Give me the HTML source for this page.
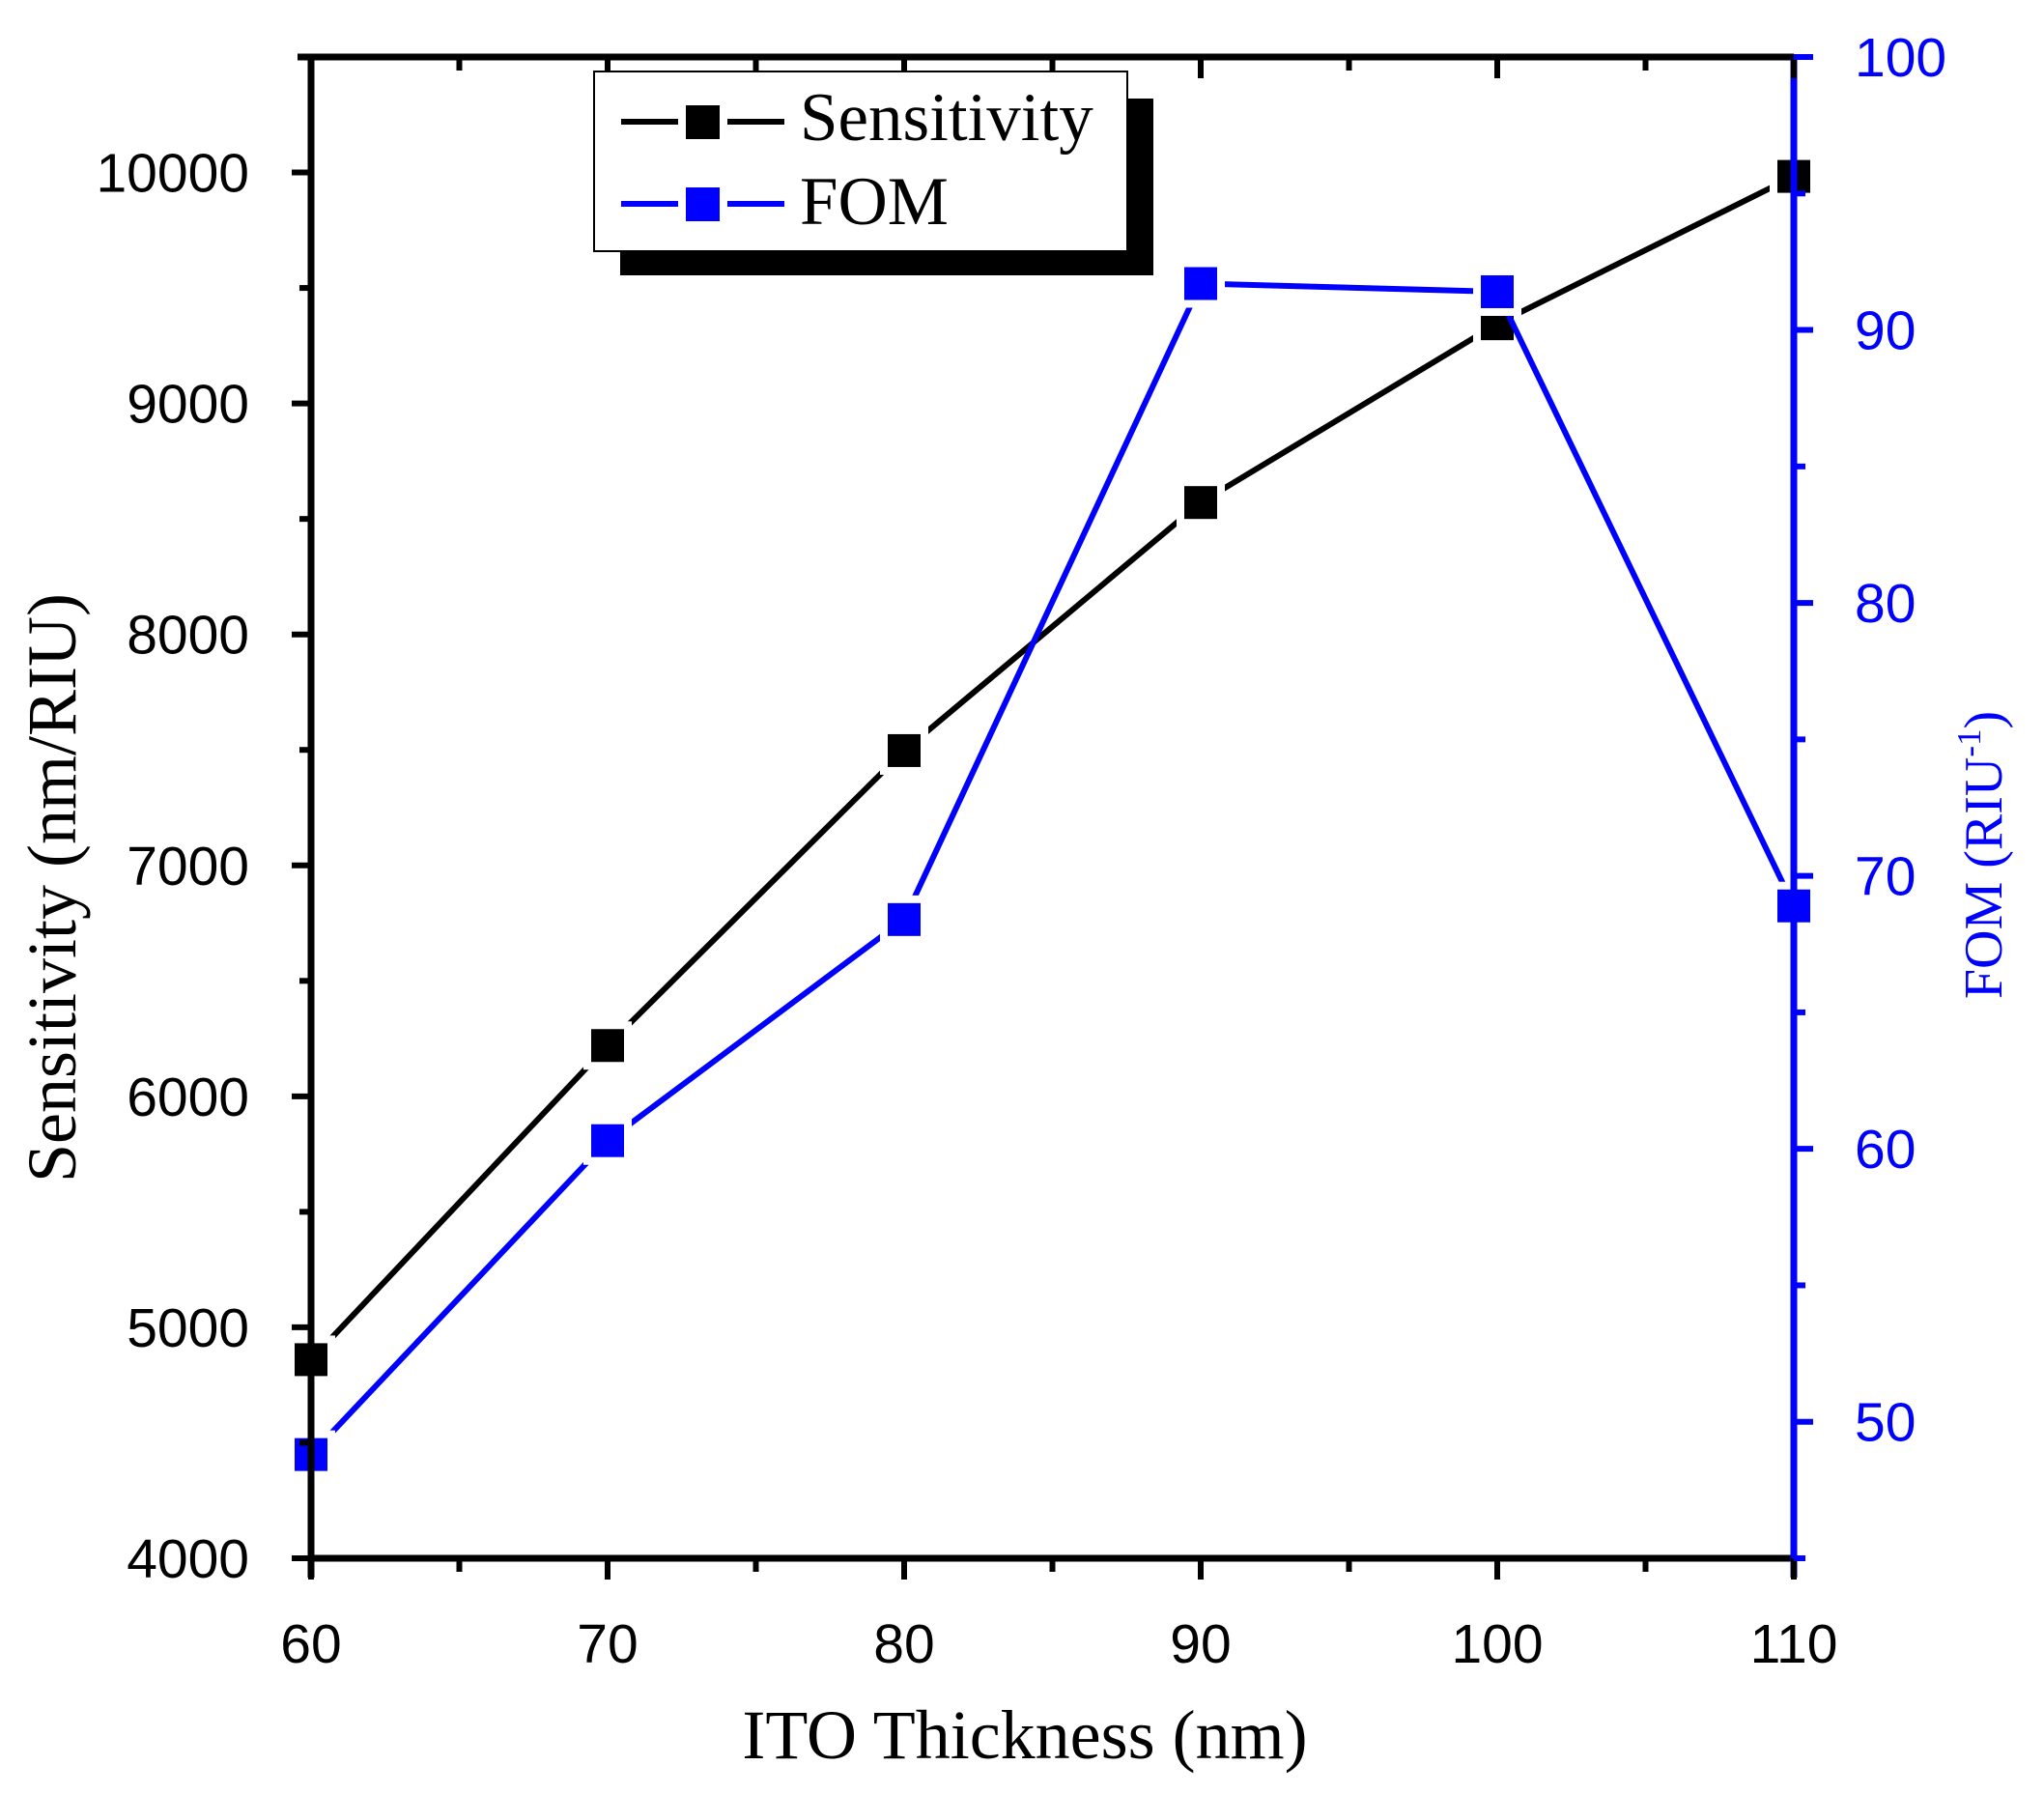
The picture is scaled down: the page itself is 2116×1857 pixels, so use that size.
<!DOCTYPE html>
<html><head><meta charset="utf-8"><style>
body{margin:0;background:#fff}
svg{display:block}
</style></head><body>
<svg id="chart" width="2116" height="1857" viewBox="0 0 2116 1857" xmlns="http://www.w3.org/2000/svg">
<g id="series"></g>
<g id="axes"></g>
<g id="legend">
  <rect x="642" y="102" width="552" height="183" fill="#000"/>
  <rect x="615" y="74" width="552" height="186" fill="#fff" stroke="#000" stroke-width="2"/>
  <line x1="643" y1="126" x2="812" y2="126" stroke="#000" stroke-width="6"/>
  <rect x="706" y="105" width="43" height="43" fill="#000" stroke="#fff" stroke-width="8"/>
  <text x="828" y="145" font-family="Liberation Serif, serif" font-size="71">Sensitivity</text>
  <line x1="643" y1="211" x2="812" y2="211" stroke="#00f" stroke-width="6"/>
  <rect x="706" y="190" width="43" height="43" fill="#00f" stroke="#fff" stroke-width="8"/>
  <text x="828" y="232" font-family="Liberation Serif, serif" font-size="71">FOM</text>
</g>
<text x="1061" y="1820" text-anchor="middle" font-family="Liberation Serif, serif" font-size="72">ITO Thickness (nm)</text>
<text transform="translate(78,919) rotate(-90)" text-anchor="middle" font-family="Liberation Serif, serif" font-size="72">Sensitivity (nm/RIU)</text>
<text transform="translate(2072,885) rotate(-90)" text-anchor="middle" font-family="Liberation Serif, serif" font-size="56" fill="#00f">FOM (RIU<tspan font-size="35" dy="-22">-1</tspan><tspan dy="22">)</tspan></text>
</svg>
<script>
const categories=[60,70,80,90,100,110];
const sensitivity=[4860,6220,7497,8571,9345,9983];
const fom=[48.8,60.3,68.4,91.7,91.4,68.9];
const xTicks=[60,70,80,90,100,110];
const yTicks=[4000,5000,6000,7000,8000,9000,10000];
const y2Ticks=[50,60,70,80,90,100];
const L=322,R=1857,T=59,B=1613;
const x=v=>L+(v-60)/50*(R-L);
const y=v=>B-(v-4000)/6500*(B-T);
const y2=v=>B-(v-45)/55*(B-T);
const NS='http://www.w3.org/2000/svg';
function mk(parent,tag,attrs){const e=document.createElementNS(NS,tag);for(const k in attrs)e.setAttribute(k,attrs[k]);parent.appendChild(e);return e;}
const ax=document.getElementById('axes');
let e;
e=mk(ax,'line',{x1:L,y1:B,x2:R,y2:B,stroke:'#000','stroke-width':7});


e=mk(ax,'line',{x1:L-14,y1:T,x2:R,y2:T,stroke:'#000','stroke-width':7});


e=mk(ax,'line',{x1:L,y1:T,x2:L,y2:B+20,stroke:'#000','stroke-width':7});


e=mk(ax,'line',{x1:R,y1:T,x2:R,y2:B+20,stroke:'#00f','stroke-width':7});


for(let v=60;v<=110;v+=5){const maj=v%10===0;
 e=mk(ax,'line',{x1:x(v),y1:B,x2:x(v),y2:B+(maj?22:14),stroke:'#000','stroke-width':6});
 
 
 e=mk(ax,'line',{x1:x(v),y1:T,x2:x(v),y2:T+(maj?22:14),stroke:'#000','stroke-width':6});
 
 }
xTicks.forEach(v=>{e=mk(ax,'text',{x:x(v),y:1721,'text-anchor':'middle','font-family':'Liberation Sans, sans-serif','font-size':57});e.textContent=v;
 
 });
for(let v=4000;v<=10500;v+=500){const maj=v%1000===0;
 e=mk(ax,'line',{x1:L,y1:y(v),x2:L-(maj?20:12),y2:y(v),stroke:'#000','stroke-width':6});
 
 }
yTicks.forEach(v=>{e=mk(ax,'text',{x:258,y:y(v)+20,'text-anchor':'end','font-family':'Liberation Sans, sans-serif','font-size':57});e.textContent=v;
 
 });
for(let v=45;v<=100;v+=5){const maj=v%10===0;
 e=mk(ax,'line',{x1:R,y1:y2(v),x2:R+(maj?20:12),y2:y2(v),stroke:'#00f','stroke-width':6});
 
 }
y2Ticks.forEach(v=>{e=mk(ax,'text',{x:1920,y:y2(v)+20,'font-family':'Liberation Sans, sans-serif','font-size':57,fill:'#00f'});e.textContent=v;
 
 });
const sg=document.getElementById('series');
function series(vals,fy,color,name){
 e=mk(sg,'polyline',{points:vals.map((v,i)=>x(categories[i])+','+fy(v)).join(' '),fill:'none',stroke:color,'stroke-width':6});
 
 
 vals.forEach((v,i)=>{e=mk(sg,'rect',{x:x(categories[i])-21,y:fy(v)-21,width:42,height:42,fill:color,stroke:'#fff','stroke-width':8});
  
  });
}
series(sensitivity,y,'#000','sensitivity');
series(fom,y2,'#00f','fom');
</script>
</body></html>
